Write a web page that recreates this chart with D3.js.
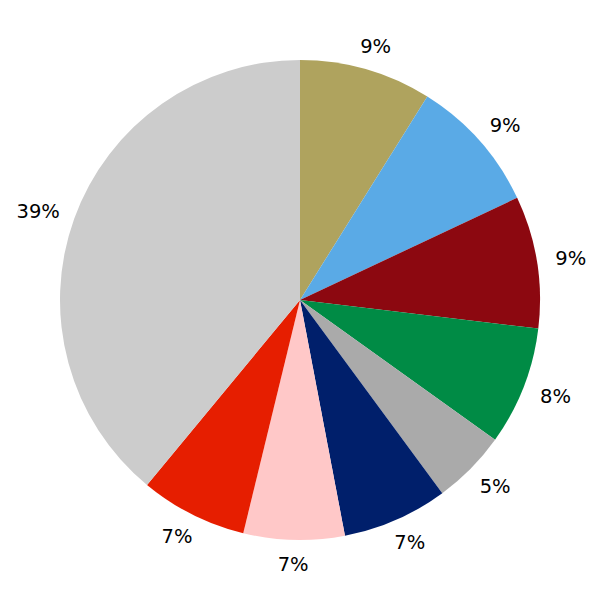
<!DOCTYPE html>
<html>
<head>
<meta charset="utf-8">
<script src="https://cdn.jsdelivr.net/npm/d3@7"></script>
<style>
  html, body { margin: 0; padding: 0; background: #fff; }
  svg { display: block; }
</style>
</head>
<body>
<svg id="chart" width="600" height="600"></svg>
<script>
const categories = ["A", "B", "C", "D", "E", "F", "G", "H", "I"];
const values = [8.9, 9.1, 8.9, 8.0, 5.0, 7.1, 6.8, 7.2, 39.0];
const colors = ["#afa35e", "#5aaae6", "#8c0810", "#008b45", "#aaaaaa", "#001f6b", "#ffc8c8", "#e61e00", "#cccccc"];

const W = 600, H = 600, cx = 300, cy = 300, R = 240, labelR = R * 1.1;
const svg = d3.select("#chart");
const g = svg.append("g").attr("transform", `translate(${cx},${cy})`);

const data = categories.map((c, i) => ({ cat: c, value: values[i], color: colors[i] }));
const pie = d3.pie().value(d => d.value).sort(null);
const arcs = pie(data);
const arc = d3.arc().innerRadius(0).outerRadius(R);

g.selectAll("path.slice").data(arcs).enter().append("path")
  .attr("class", "slice")
  .attr("d", arc)
  .attr("fill", d => d.data.color);

const fs = 19.5;
const labels = g.selectAll("text.lbl").data(arcs).enter().append("text")
  .attr("class", "lbl")
  .attr("font-family", "DejaVu Sans")
  .attr("font-size", fs)
  .attr("fill", "#000")
  .attr("text-anchor", "middle")
  .text(d => Math.round(d.data.value) + "%");

labels.each(function(d) {
  const a = (d.startAngle + d.endAngle) / 2;
  const w = this.getComputedTextLength();
  const x = labelR * Math.sin(a) + Math.sin(a) * w * 0.33;
  const y = -labelR * Math.cos(a) + fs * 0.36;
  d3.select(this).attr("x", x).attr("y", y);
});
</script>
</body>
</html>
